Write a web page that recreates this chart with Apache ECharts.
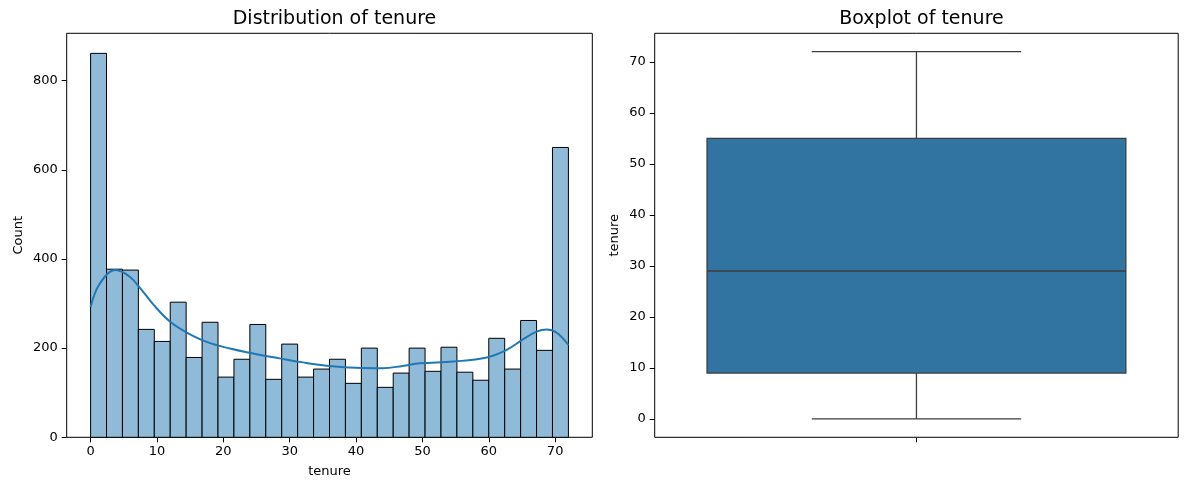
<!DOCTYPE html>
<html>
<head>
<meta charset="utf-8">
<script src="https://cdn.jsdelivr.net/npm/echarts@6/dist/echarts.min.js"></script>
<style>
html,body{margin:0;padding:0;background:#fff;}
#c{width:1189px;height:490px;}
</style>
</head>
<body>
<div id="c"></div>
<script>
// ---- data ----
const binMin = 0;
const binMax = 72;
const binCounts = [861,377,375,242,215,303,179,258,135,175,253,130,209,135,153,175,121,200,112,144,200,148,202,146,128,222,153,262,195,650];
const kdeX = [0,1.4,3.8,5.9,7.5,9.5,12,14.5,17.5,21,24.5,28.5,32,36,40,44,47,49.6,54.7,59.7,62.7,65.2,67.2,68.7,70.2,72];
const kdeY = [292,345,375,360,334,297,259,235,214,199,188,177,168,160,156,155,160,166,170,179,196,220,237,242,235,207];
const histXTicks = [0,10,20,30,40,50,60,70];
const histYTicks = [0,200,400,600,800];
const boxStats = [0, 9, 29, 55, 72]; // min, Q1, median, Q3, max
const boxYTicks = [0,10,20,30,40,50,60,70];

const FONT = 'DejaVu Sans';
const binW = (binMax - binMin) / binCounts.length;
const histData = binCounts.map((c, i) => [binMin + i * binW, binMin + (i + 1) * binW, c]);
const kdeData = kdeX.map((x, i) => [x, kdeY[i]]);

const chart = echarts.init(document.getElementById('c'), null, {renderer: 'canvas'});
const axisText = {color: '#000', fontFamily: FONT, fontSize: 13};
const nameText = {color: '#000', fontFamily: FONT, fontSize: 13};
const noLine = {show: false, onZero: false};
const tick = (vals) => ({show: true, inside: false, length: 5, lineStyle: {color: '#000', width: 1}, customValues: vals});

chart.setOption({
  animation: false,
  backgroundColor: '#fff',
  title: [
    {text: 'Distribution of tenure', left: 329.5, textAlign: 'center', top: 5,
     textStyle: {fontFamily: FONT, fontSize: 19, fontWeight: 'normal', color: '#000'}},
    {text: 'Boxplot of tenure', left: 916.5, textAlign: 'center', top: 5,
     textStyle: {fontFamily: FONT, fontSize: 19, fontWeight: 'normal', color: '#000'}}
  ],
  grid: [
    {left: 66.7, top: 33.3, width: 525.6, height: 404, show: true, borderColor: '#000', borderWidth: 1, backgroundColor: 'transparent'},
    {left: 654.7, top: 33.3, width: 523.5, height: 404, show: true, borderColor: '#000', borderWidth: 1, backgroundColor: 'transparent'}
  ],
  xAxis: [
    {type: 'value', gridIndex: 0, min: -3.6, max: 75.6,
     name: 'tenure', nameLocation: 'middle', nameGap: 28, nameTextStyle: nameText,
     axisLine: noLine, splitLine: {show: false},
     axisTick: tick(histXTicks),
     axisLabel: Object.assign({margin: 8, customValues: histXTicks}, axisText)},
    {type: 'category', gridIndex: 1, data: [''], boundaryGap: true,
     axisLine: noLine, splitLine: {show: false},
     axisTick: {show: true, inside: false, length: 5, alignWithLabel: true, lineStyle: {color: '#000', width: 1}},
     axisLabel: {show: false}}
  ],
  yAxis: [
    {type: 'value', gridIndex: 0, min: 0, max: 906,
     name: 'Count', nameLocation: 'middle', nameGap: 42, nameRotate: 90, nameTextStyle: nameText,
     axisLine: noLine, splitLine: {show: false},
     axisTick: tick(histYTicks),
     axisLabel: Object.assign({margin: 9, customValues: histYTicks}, axisText)},
    {type: 'value', gridIndex: 1, min: -3.6, max: 75.6,
     name: 'tenure', nameLocation: 'middle', nameGap: 34, nameRotate: 90, nameTextStyle: nameText,
     axisLine: noLine, splitLine: {show: false},
     axisTick: tick(boxYTicks),
     axisLabel: Object.assign({margin: 9, customValues: boxYTicks}, axisText)}
  ],
  series: [
    {type: 'custom', xAxisIndex: 0, yAxisIndex: 0, data: histData,
     encode: {x: [0, 1], y: 2},
     renderItem: function (params, api) {
       const p0 = api.coord([api.value(0), api.value(2)]);
       const p1 = api.coord([api.value(1), 0]);
       return {type: 'rect',
         shape: {x: p0[0], y: p0[1], width: p1[0] - p0[0], height: p1[1] - p0[1]},
         style: {fill: '#8fbbd9', stroke: '#000', lineWidth: 1}};
     }},
    {type: 'line', xAxisIndex: 0, yAxisIndex: 0, data: kdeData, smooth: 0.4,
     showSymbol: false, symbol: 'none', lineStyle: {color: '#1f77b4', width: 2}, z: 5},
    {type: 'custom', xAxisIndex: 1, yAxisIndex: 1, data: [[0].concat(boxStats)],
     encode: {x: 0, y: [1, 2, 3, 4, 5]},
     renderItem: function (params, api) {
       const cx = api.coord([api.value(0), 0])[0];
       const band = api.size([1, 0])[0];
       const hw = band * 0.4, cw = band * 0.2;
       const yMin = api.coord([0, api.value(1)])[1];
       const yQ1 = api.coord([0, api.value(2)])[1];
       const yMed = api.coord([0, api.value(3)])[1];
       const yQ3 = api.coord([0, api.value(4)])[1];
       const yMax = api.coord([0, api.value(5)])[1];
       const ls = {stroke: '#3d3d3d', lineWidth: 1.3};
       return {type: 'group', children: [
         {type: 'line', shape: {x1: cx, y1: yQ3, x2: cx, y2: yMax}, style: ls},
         {type: 'line', shape: {x1: cx, y1: yQ1, x2: cx, y2: yMin}, style: ls},
         {type: 'line', shape: {x1: cx - cw, y1: yMax, x2: cx + cw, y2: yMax}, style: ls},
         {type: 'line', shape: {x1: cx - cw, y1: yMin, x2: cx + cw, y2: yMin}, style: ls},
         {type: 'rect', shape: {x: cx - hw, y: yQ3, width: 2 * hw, height: yQ1 - yQ3},
          style: {fill: '#3274a1', stroke: '#3d3d3d', lineWidth: 1.3}},
         {type: 'line', shape: {x1: cx - hw, y1: yMed, x2: cx + hw, y2: yMed}, style: ls}
       ]};
     }}
  ]
});
</script>
</body>
</html>
